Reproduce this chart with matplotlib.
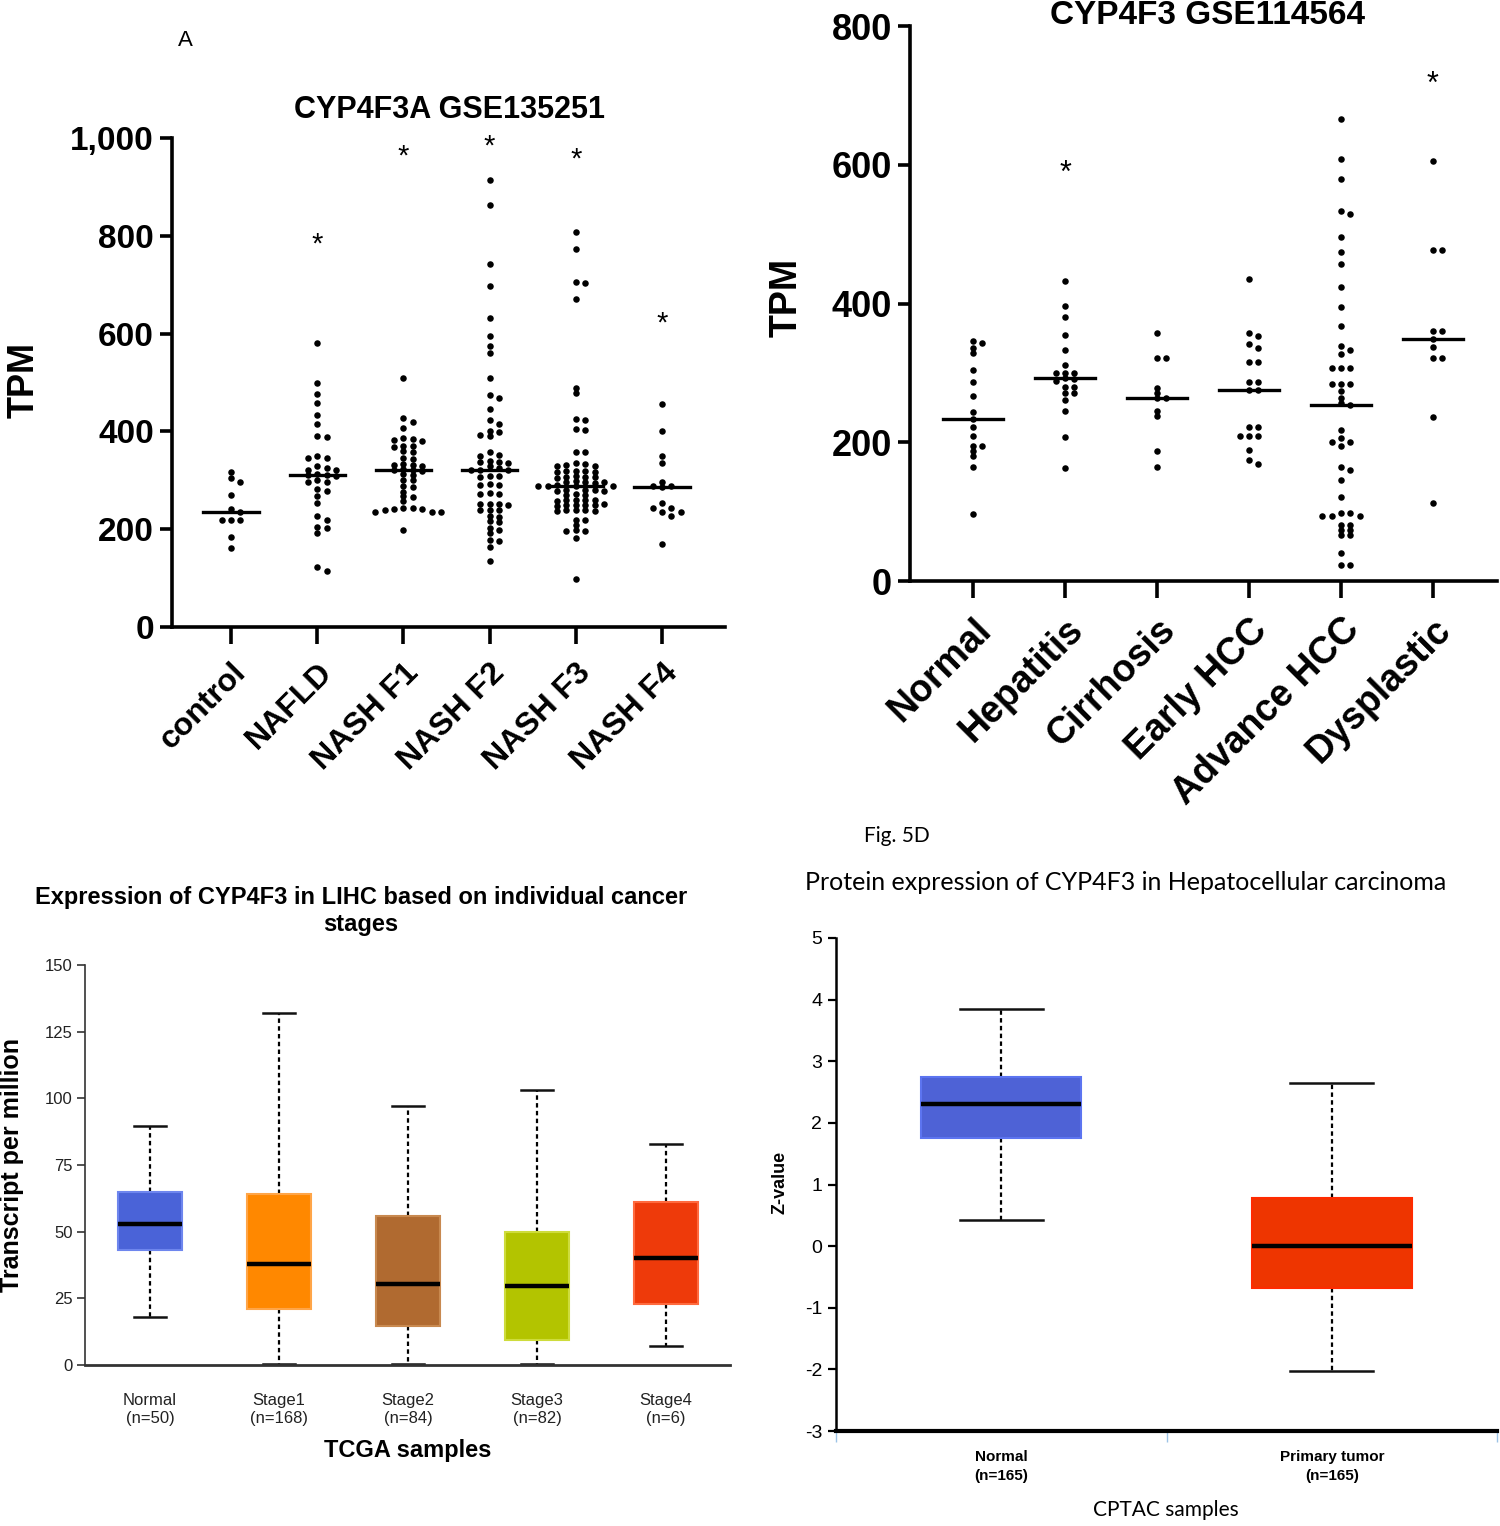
import numpy as np
import matplotlib
matplotlib.use("Agg")
import matplotlib.pyplot as plt
import matplotlib.font_manager as fm
from matplotlib.ticker import FuncFormatter

# ---- data ----
# A: CYP4F3A GSE135251 (TPM)
groups_a = ["control", "NAFLD", "NASH F1", "NASH F2", "NASH F3", "NASH F4"]
control = [316, 305, 297, 270, 242, 236, 218, 218, 218, 184, 162]
nafld = [581, 499, 477, 459, 433, 415, 390, 388, 350, 346, 346, 330, 325, 321, 321,
         312, 310, 310, 308, 301, 296, 296, 282, 278, 267, 253, 226, 219, 205, 203,
         192, 122, 115]
nash_f1 = [509, 428, 419, 406, 387, 385, 382, 380, 370, 370, 368, 360, 358, 346, 344,
           333, 332, 332, 330, 323, 322, 322, 320, 312, 310, 301, 300, 288, 286, 277,
           267, 265, 257, 243, 243, 242, 242, 240, 236, 235, 235, 199]
nash_f2 = [914, 862, 743, 697, 632, 596, 575, 560, 509, 475, 468, 445, 423, 416, 401,
           398, 392, 390, 358, 352, 349, 339, 338, 337, 336, 329, 325, 322, 321, 321,
           309, 308, 307, 292, 291, 290, 274, 273, 272, 252, 252, 251, 250, 240, 240,
           239, 226, 225, 216, 215, 203, 198, 192, 178, 176, 164, 134]
nash_f3 = [808, 773, 706, 704, 671, 489, 479, 425, 424, 404, 403, 358, 357,
           336, 334, 332, 330, 329, 319, 318, 318, 317, 316, 308, 307, 306, 306, 305,
           298, 297, 297, 296, 295, 290, 289, 289, 288, 288, 281, 280, 280, 279, 279,
           271, 270, 270, 260, 260, 259, 259, 258, 251, 250, 250, 249, 249, 248,
           240, 239, 239, 238, 238, 219, 218, 209, 198, 197, 196, 182, 99]
nash_f4 = [456, 401, 350, 335, 296, 288, 288, 286, 253, 244, 244, 236, 236, 228, 170]
stars_a = [None, 800, 980, 1000, 973, 638]

# B: CYP4F3 GSE114564 (TPM)
groups_b = ["Normal", "Hepatitis", "Cirrhosis", "Early HCC", "Advance HCC", "Dysplastic"]
normal_b = [346, 343, 336, 329, 304, 287, 266, 244, 233, 222, 209, 195, 195, 187, 180, 165, 96]
hepatitis = [433, 397, 380, 355, 333, 311, 300, 300, 300, 293, 291, 289, 280, 280, 271,
             271, 261, 245, 208, 163]
cirrhosis = [357, 321, 321, 278, 271, 264, 264, 245, 238, 187, 165]
early_hcc = [436, 357, 353, 341, 336, 315, 315, 287, 287, 275, 275, 222, 222, 209, 209,
             209, 189, 175, 169]
advance_hcc = [666, 609, 580, 533, 529, 496, 474, 457, 424, 395, 368, 339, 333, 327,
               307, 307, 307, 284, 284, 284, 274, 264, 256, 253, 218, 206, 200, 200, 194,
               165, 160, 145, 121, 98, 98, 93, 93, 93, 81, 81, 73, 73, 66, 66, 40, 23, 23]
dysplastic = [606, 477, 477, 361, 361, 349, 337, 322, 322, 237, 113]
stars_b = [None, 601, None, None, None, 729]

# C: TCGA LIHC stages (transcript per million)
stages = ["Normal\n(n=50)", "Stage1\n(n=168)", "Stage2\n(n=84)", "Stage3\n(n=82)", "Stage4\n(n=6)"]
c_low = [18, 0.5, 0.5, 0.5, 7]
c_q1 = [43, 21, 14.5, 9.5, 23]
c_med = [53, 38, 30.5, 29.5, 40]
c_q3 = [65, 64, 56, 50, 61]
c_high = [89.5, 132, 97, 103, 83]
c_colors = ["#4A63D8", "#FF8800", "#B06A30", "#B3C400", "#EE3A0A"]
c_edges = ["#6E86EE", "#FFA548", "#C8894F", "#CEDC3C", "#FF6A3E"]

# D: CPTAC protein (Z-value)
d_groups = ["Normal\n(n=165)", "Primary tumor\n(n=165)"]
d_low = [0.42, -2.03]
d_q1 = [1.75, -0.68]
d_med = [2.3, 0.0]
d_q3 = [2.75, 0.78]
d_high = [3.85, 2.65]
d_colors = ["#4E62D6", "#EE3500"]
d_edges = ["#5C74F0", "#FF2A00"]

names = {f.name for f in fm.fontManager.ttflist}
ARIAL = "Liberation Sans" if "Liberation Sans" in names else "DejaVu Sans"
NARROW = "Liberation Sans Narrow" if "Liberation Sans Narrow" in names else ARIAL
HUMAN = "Lato" if "Lato" in names else "DejaVu Sans"
plt.rcParams["font.family"] = [ARIAL, "DejaVu Sans"]
plt.rcParams["axes.unicode_minus"] = False

W, H = 1500, 1526
fig = plt.figure(figsize=(W / 100, H / 100), dpi=100)


def rect(x0, y0, x1, y1):
    return [x0 / W, 1 - y1 / H, (x1 - x0) / W, (y1 - y0) / H]


def ftext(x, y, s, **kw):
    fig.text(x / W, 1 - y / H, s, ha=kw.pop("ha", "center"), va=kw.pop("va", "center"), **kw)


def swarm(ax, vals, pos, dx_px=9.4, dy_px=4.6):
    # row-like beeswarm: dots collide only when closer than dy_px vertically
    order = np.argsort(vals)[::-1]
    x0, _ = ax.transData.transform((pos, 0))
    placed = []
    xs = np.zeros(len(vals))
    for i in order:
        _, y = ax.transData.transform((pos, vals[i]))
        near = [px for px, py in placed if abs(py - y) < dy_px]
        cands = [0.0]
        for px in near:
            cands += [px + dx_px, px - dx_px]
        cands.sort(key=lambda c: (abs(c), -c))
        for c in cands:
            if all(abs(c - px) >= dx_px - 1e-6 for px in near):
                break
        placed.append((c, y))
        xs[i] = ax.transData.inverted().transform((x0 + c, y))[0]
    return xs


def dot_panel(ax, data, labels, stars, half, lab_size, star_size):
    for i, vals in enumerate(data):
        vals = np.array(vals, dtype=float)
        xs = swarm(ax, vals, i)
        ax.scatter(xs, vals, s=22, color="black", zorder=3, linewidths=0)
        m = np.median(vals)
        ax.plot([i - half, i + half], [m, m], color="black", lw=2.4, zorder=2)
        if stars[i] is not None:
            ax.annotate("*", (i, stars[i]), xytext=(0, -0.57 * star_size), textcoords="offset points",
                        ha="center", va="baseline", fontsize=star_size)
    for s in ["top", "right"]:
        ax.spines[s].set_visible(False)
    for s in ["left", "bottom"]:
        ax.spines[s].set_linewidth(2.6)
    ax.set_xticks(range(len(labels)))
    ax.set_xticklabels(labels, rotation=45, ha="right", rotation_mode="anchor",
                       fontsize=lab_size, fontweight="bold")
    ax.tick_params(axis="x", length=12, width=2.6, pad=10)
    ax.tick_params(axis="y", length=9, width=2.6, pad=4)
    for t in ax.get_yticklabels():
        t.set_fontweight("bold")


# ---- panel A ----
axA = fig.add_axes(rect(172, 138, 725, 627))
axA.set_xlim(-0.684, 5.73)
axA.set_ylim(0, 1000)
axA.set_yticks([0, 200, 400, 600, 800, 1000])
axA.yaxis.set_major_formatter(FuncFormatter(lambda v, p: f"{v:,.0f}"))
axA.tick_params(axis="y", labelsize=24)
dot_panel(axA, [control, nafld, nash_f1, nash_f2, nash_f3, nash_f4], groups_a, stars_a, 0.32, 23, 21)
ftext(450, 110, "CYP4F3A GSE135251", fontsize=22, fontweight="bold")
ftext(24, 380, "TPM", fontsize=26, fontweight="bold", rotation=90)
ftext(185, 40, "A", fontsize=16)

# ---- panel B ----
axB = fig.add_axes(rect(910, 26, 1497, 581))
axB.set_xlim(-0.685, 5.696)
axB.set_ylim(0, 800)
axB.set_yticks([0, 200, 400, 600, 800])
axB.tick_params(axis="y", labelsize=26)
dot_panel(axB, [normal_b, hepatitis, cirrhosis, early_hcc, advance_hcc, dysplastic],
          groups_b, stars_b, 0.33, 27, 22)
ftext(1207, 16, "CYP4F3 GSE114564", fontsize=24, fontweight="bold")
ftext(787, 297, "TPM", fontsize=27, fontweight="bold", rotation=90)


def box_stats(low, q1, med, q3, high):
    return [dict(whislo=a, q1=b, med=c, q3=d, whishi=e, fliers=[])
            for a, b, c, d, e in zip(low, q1, med, q3, high)]


def box_panel(ax, stats, positions, colors, edges, width, capw):
    bp = ax.bxp(stats, positions=positions, widths=width, patch_artist=True, showfliers=False,
                capwidths=capw,
                whiskerprops=dict(color="black", lw=1.6, ls=(0, (2, 1.5))),
                capprops=dict(color="#111111", lw=1.8),
                medianprops=dict(color="black", lw=3.2))
    for patch, c, e in zip(bp["boxes"], colors, edges):
        patch.set_facecolor(c)
        patch.set_edgecolor(e)
        patch.set_linewidth(1.5)
    for w in bp["whiskers"]:
        w.set_zorder(1)


# ---- panel C ----
axC = fig.add_axes(rect(85, 965, 730, 1365))
box_panel(axC, box_stats(c_low, c_q1, c_med, c_q3, c_high), range(5), c_colors, c_edges, 0.49, 0.25)
axC.set_xlim(-0.504, 4.496)
axC.set_ylim(0, 150)
axC.set_yticks([0, 25, 50, 75, 100, 125, 150])
axC.set_xticks(range(5))
axC.set_xticklabels(stages, fontsize=12, family=NARROW, color="#222222", linespacing=1.3)
axC.tick_params(axis="x", length=0, pad=20)
axC.tick_params(axis="y", length=6, width=1.2, color="#333333", labelsize=12, labelcolor="#222222", pad=3)
for t in axC.get_yticklabels():
    t.set_family(NARROW)
for s in ["top", "right"]:
    axC.spines[s].set_visible(False)
axC.spines["left"].set_color("#333333")
axC.spines["left"].set_linewidth(1.2)
axC.spines["bottom"].set_color("#333333")
axC.spines["bottom"].set_linewidth(2)
ftext(361, 911, "Expression of CYP4F3 in LIHC based on individual cancer\nstages",
      fontsize=17, fontweight="bold", family=NARROW, linespacing=1.25)
ftext(12, 1165, "Transcript per million", fontsize=18, fontweight="bold", rotation=90)
ftext(408, 1450, "TCGA samples", fontsize=17, fontweight="bold")

# ---- panel D ----
axD = fig.add_axes(rect(836, 938, 1497, 1431))
box_panel(axD, box_stats(d_low, d_q1, d_med, d_q3, d_high), [1, 2], d_colors, d_edges, 0.485, 0.25)
axD.set_xlim(0.5, 2.5)
axD.set_ylim(-3, 5)
axD.set_yticks(range(-3, 6))
axD.set_xticks([1, 2])
axD.set_xticklabels(d_groups, fontsize=11, fontweight="bold", family=NARROW, linespacing=1.4)
axD.set_xticks([0.5, 1.5, 2.5], minor=True)
axD.tick_params(axis="x", which="major", length=0, pad=14)
axD.tick_params(axis="x", which="minor", length=8, width=1, color="#9CC3E6", direction="out")
axD.tick_params(axis="y", length=6, width=1.6, labelsize=14, pad=4)
for t in axD.get_yticklabels():
    t.set_family(NARROW)
for s in ["top", "right"]:
    axD.spines[s].set_visible(False)
axD.spines["left"].set_linewidth(1.8)
axD.spines["bottom"].set_linewidth(3)
ftext(897, 836, "Fig. 5D", fontsize=15, family=HUMAN)
ftext(1126, 882, "Protein expression of CYP4F3 in Hepatocellular carcinoma", fontsize=18, family=HUMAN)
ftext(780, 1182, "Z-value", fontsize=13, fontweight="bold", family=NARROW, rotation=90)
ftext(1166, 1510, "CPTAC samples", fontsize=15, family=HUMAN)

fig.savefig("out.png", dpi=100)
